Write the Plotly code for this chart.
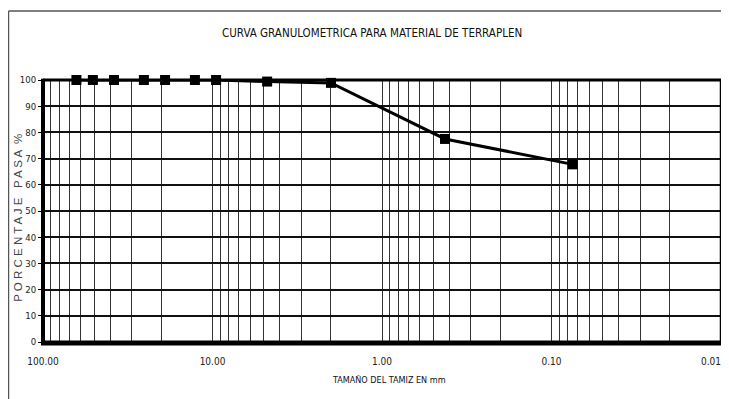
import plotly.graph_objects as go

# Sieve openings (mm) and percentage passing
sieve_mm = [63.5, 50.8, 38.1, 25.4, 19.05, 12.7, 9.525, 4.76, 2.0, 0.425, 0.075]
pct_pass = [100, 100, 100, 100, 100, 100, 100, 99.4, 98.9, 77.5, 67.8]

# Axis ticks
decades = [100, 10, 1, 0.1, 0.01]
decade_labels = ["100.00", "10.00", "1.00", "0.10", "0.01"]
y_ticks = [0, 10, 20, 30, 40, 50, 60, 70, 80, 90, 100]

# log grid values (all 1..9 multiples of each decade); the last decade
# label (at the right edge) is drawn as a right-anchored annotation
grid_vals = []
grid_text = []
for d in [10, 1, 0.1, 0.01]:
    for m in range(1, 10):
        v = round(d * m, 6)
        grid_vals.append(v)
        grid_text.append(decade_labels[decades.index(v)] if (v in decades and v != decades[-1]) else "")
grid_vals.append(100)
grid_text.append("100.00")

FONT = "DejaVu Sans Condensed, Liberation Sans Narrow, Arial Narrow, sans-serif"

fig = go.Figure()
fig.add_trace(go.Scatter(
    x=sieve_mm, y=pct_pass, mode="lines+markers",
    line=dict(color="black", width=3),
    marker=dict(symbol="square", size=10, color="black"),
    cliponaxis=False, showlegend=False,
))

fig.update_layout(
    width=721, height=391,
    margin=dict(l=35, r=8, t=72, b=57),
    paper_bgcolor="white", plot_bgcolor="white",
    title=dict(text="CURVA GRANULOMETRICA PARA MATERIAL DE TERRAPLEN",
               x=0.505, xanchor="center", y=0.936, yanchor="middle",
               font=dict(family=FONT, size=11.5, color="#111")),
    xaxis=dict(type="log", range=[2, -2], tickmode="array",
               tickvals=grid_vals, ticktext=grid_text,
               showgrid=True, gridcolor="#333", gridwidth=1,
               ticks="", ticklabelstandoff=12, automargin=False,
               tickfont=dict(family=FONT, size=10, color="#222"),
               showline=False, zeroline=False),
    yaxis=dict(range=[0, 100], tickmode="array", tickvals=y_ticks,
               showgrid=True, gridcolor="#111", gridwidth=1.5,
               ticks="outside", ticklen=4, tickcolor="black", tickwidth=1,
               automargin=False,
               tickfont=dict(family=FONT, size=9.5, color="#222"),
               showline=False, zeroline=False),
    annotations=[
        dict(text=decade_labels[-1], xref="paper", yref="paper",
             x=1.003, y=-0.074, xanchor="right", yanchor="middle", showarrow=False,
             font=dict(family=FONT, size=10, color="#222")),
        dict(text="TAMAÑO DEL TAMIZ EN mm", xref="paper", yref="paper",
             x=0.51, y=-0.145, xanchor="center", yanchor="middle", showarrow=False,
             font=dict(family=FONT, size=9, color="#111")),
        dict(text="P O R C E N T A J E   P A S A  %", xref="paper", yref="paper",
             x=-0.038, y=0.475, xanchor="center", yanchor="middle", showarrow=False,
             textangle=-90, font=dict(family="Liberation Sans, Arial, sans-serif", size=11.5, color="#444")),
    ],
    shapes=[
        # plot frame
        dict(type="line", xref="paper", yref="paper", x0=0, x1=0, y0=-0.008, y1=1.005,
             line=dict(color="black", width=4), layer="above"),
        dict(type="line", xref="paper", yref="paper", x0=-0.003, x1=1.002, y0=-0.004, y1=-0.004,
             line=dict(color="black", width=5), layer="above"),
        dict(type="line", xref="paper", yref="paper", x0=0, x1=1.002, y0=1, y1=1,
             line=dict(color="black", width=3), layer="above"),
        dict(type="line", xref="paper", yref="paper", x0=1, x1=1, y0=-0.004, y1=1,
             line=dict(color="black", width=2.5), layer="above"),
        # outer frame
        dict(type="line", xref="paper", yref="paper", x0=-0.0509, x1=1.02, y0=1.2634, y1=1.2634,
             line=dict(color="#555", width=1.5), layer="above"),
        dict(type="line", xref="paper", yref="paper", x0=-0.0509, x1=-0.0509, y0=-0.23, y1=1.2634,
             line=dict(color="#555", width=1.5), layer="above"),
    ],
)

fig.write_html("out.html")
